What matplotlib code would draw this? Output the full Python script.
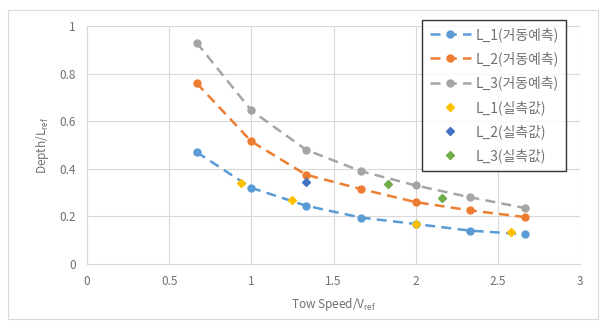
import numpy as np
import matplotlib
matplotlib.use("Agg")
import matplotlib.pyplot as plt
from matplotlib.patches import Rectangle

plt.rcParams['font.family'] = ['Noto Sans CJK KR', 'DejaVu Sans']

# predicted curves
speed = [0.667, 1.0, 1.333, 1.667, 2.0, 2.333, 2.667]
pred_l1 = [0.47, 0.32, 0.245, 0.195, 0.168, 0.14, 0.125]
pred_l2 = [0.76, 0.515, 0.375, 0.315, 0.26, 0.225, 0.197]
pred_l3 = [0.93, 0.645, 0.48, 0.39, 0.33, 0.28, 0.235]

# measured points
meas_l1_x = [0.94, 1.25, 2.0, 2.58]
meas_l1_y = [0.34, 0.27, 0.17, 0.135]
meas_l2_x = [1.333]
meas_l2_y = [0.345]
meas_l3_x = [1.83, 2.16]
meas_l3_y = [0.335, 0.277]

pred_labels = ['L_1(거동예측)', 'L_2(거동예측)', 'L_3(거동예측)']
meas_labels = ['L_1(실측값)', 'L_2(실측값)', 'L_3(실측값)']

fig = plt.figure(figsize=(6.05, 3.25), dpi=100)
fig.patches.append(Rectangle((0.013, 0.02), 0.975, 0.95, transform=fig.transFigure,
                             fill=False, edgecolor='#d9d9d9', lw=0.8))
ax = fig.add_axes([0.1438, 0.1877, 0.8149, 0.7323])

cols = ['#5B9BD5', '#ED7D31', '#A5A5A5']
for y, c, lab in zip([pred_l1, pred_l2, pred_l3], cols, pred_labels):
    ax.plot(speed, y, color=c, ls=(0, (4, 2.5)), lw=1.8, marker='o', ms=5, label=lab)

ax.plot(meas_l1_x, meas_l1_y, ls='none', marker='D', ms=4.5, color='#FFC000', label=meas_labels[0])
ax.plot(meas_l2_x, meas_l2_y, ls='none', marker='D', ms=4.5, color='#4472C4', label=meas_labels[1])
ax.plot(meas_l3_x, meas_l3_y, ls='none', marker='D', ms=4.5, color='#70AD47', label=meas_labels[2])

ax.set_xlim(0, 3)
ax.set_ylim(0, 1)
ax.set_xticks([0, 0.5, 1, 1.5, 2, 2.5, 3])
ax.set_xticklabels(['0', '0.5', '1', '1.5', '2', '2.5', '3'])
ax.set_yticks([0, 0.2, 0.4, 0.6, 0.8, 1])
ax.set_yticklabels(['0', '0.2', '0.4', '0.6', '0.8', '1'])
ax.grid(True, color='#d9d9d9', lw=0.8)
ax.set_axisbelow(True)
for s in ['top', 'right']:
    ax.spines[s].set_visible(False)
for s in ['left', 'bottom']:
    ax.spines[s].set_color('#d9d9d9')
ax.tick_params(length=0, labelsize=8.5, colors='#707070', pad=8)
ax.set_xlabel('Tow Speed/V$_\\mathregular{ref}$', fontsize=8.5, color='#707070', labelpad=6)
ax.set_ylabel('Depth/L$_\\mathregular{ref}$', fontsize=8.5, color='#707070', labelpad=6)

leg = ax.legend(loc='upper left', bbox_to_anchor=(0.6975, 0.94), bbox_transform=fig.transFigure,
                fontsize=10, frameon=True, fancybox=False, labelspacing=0.68,
                handlelength=3.0, borderpad=0.55, handletextpad=0.3, borderaxespad=0)
leg.get_frame().set_edgecolor('black')
leg.get_frame().set_linewidth(1.0)
for t in leg.get_texts():
    t.set_color('#707070')

fig.savefig('out.png', dpi=100)
